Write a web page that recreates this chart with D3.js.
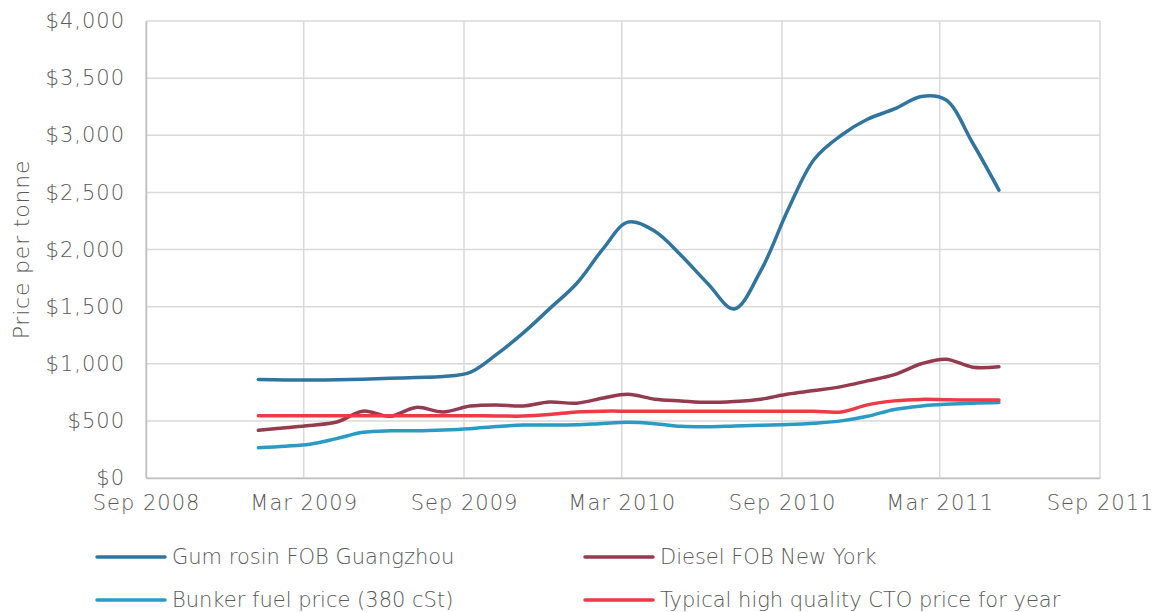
<!DOCTYPE html>
<html>
<head>
<meta charset="utf-8">
<script src="https://cdn.jsdelivr.net/npm/d3@7"></script>
<style>
  body { margin: 0; background: #fff; }
  text { font-family: "DejaVu Sans", sans-serif; font-weight: 200; fill: #595959; }
</style>
</head>
<body>
<div id="container"></div>
<script>
// monthly series, Jan 2009 .. May 2011
let months = d3.range(29).map(k => new Date(2009, k, 8));

let gumRosin = [862, 858, 858, 860, 865, 872, 880, 888, 925, 1080, 1270, 1480,
                1700, 2010, 2240, 2160, 1950, 1700, 1480, 1820, 2350, 2790, 3000, 3140,
                3230, 3340, 3310, 2930, 2520];
let diesel = [418, 440, 460, 490, 585, 540, 618, 578, 630, 640, 630, 665,
              655, 700, 733, 690, 675, 662, 670, 690, 735, 765, 800, 850,
              905, 1000, 1040, 970, 974];
let bunker = [265, 278, 295, 345, 400, 413, 413, 420, 432, 450, 464, 463,
              465, 478, 487, 475, 452, 448, 455, 462, 468, 480, 500, 540,
              600, 630, 645, 655, 660];
let cto = [545, 545, 545, 545, 545, 545, 545, 545, 545, 543, 542, 555,
           578, 585, 585, 585, 585, 585, 585, 585, 585, 584, 578, 640,
           675, 688, 685, 683, 683];

let seriesNames = ["Gum rosin FOB Guangzhou", "Diesel FOB New York",
                   "Bunker fuel price (380 cSt)", "Typical high quality CTO price for year"];
let seriesColors = ["#31759e", "#943b4e", "#2a9bc4", "#ef3a46"];
let yTicks = d3.range(0, 4001, 500);
let xTicks = [new Date(2008, 8, 1), new Date(2009, 2, 1), new Date(2009, 8, 1),
              new Date(2010, 2, 1), new Date(2010, 8, 1), new Date(2011, 2, 1), new Date(2011, 8, 1)];

let width = 1153, height = 612;
let margin = {left: 146, right: 53, top: 21, bottom: 134};

let svg = d3.select('#container').append('svg')
    .attr('width', width)
    .attr('height', height);

let x = d3.scaleTime()
    .domain([xTicks[0], xTicks[xTicks.length - 1]])
    .range([margin.left, width - margin.right]);
let y = d3.scaleLinear()
    .domain([0, 4000])
    .range([height - margin.bottom, margin.top]);

// grid
svg.append('g').selectAll('line.h').data(yTicks).enter().append('line')
    .attr('x1', margin.left).attr('x2', width - margin.right)
    .attr('y1', d => y(d)).attr('y2', d => y(d))
    .attr('stroke', '#d9d9d9').attr('stroke-width', 1.5);
svg.append('g').selectAll('line.v').data(xTicks).enter().append('line')
    .attr('x1', d => x(d)).attr('x2', d => x(d))
    .attr('y1', margin.top).attr('y2', height - margin.bottom)
    .attr('stroke', '#d9d9d9').attr('stroke-width', 1.5);

// axes
let yAxis = svg.append('g')
    .attr('transform', 'translate(' + margin.left + ',0)')
    .call(d3.axisLeft(y).tickValues(yTicks).tickSize(0).tickPadding(21)
        .tickFormat(d => '$' + d3.format(',')(d)));
yAxis.select('.domain').attr('stroke', '#bfbfbf').attr('stroke-width', 1.5);
yAxis.selectAll('text').style('font-size', '21px').style('letter-spacing', '1px')
    .attr('fill', '#595959');

let xAxis = svg.append('g')
    .attr('transform', 'translate(0,' + (height - margin.bottom) + ')')
    .call(d3.axisBottom(x).tickValues(xTicks).tickSize(0).tickPadding(17)
        .tickFormat(d3.timeFormat('%b %Y')));
xAxis.select('.domain').attr('stroke', '#bfbfbf').attr('stroke-width', 1.5);
xAxis.selectAll('text').style('font-size', '21px').style('letter-spacing', '1px')
    .attr('fill', '#595959');

svg.append('text')
    .attr('transform', 'translate(29,' + ((margin.top + height - margin.bottom) / 2) + ') rotate(-90)')
    .attr('text-anchor', 'middle')
    .style('font-size', '22px')
    .style('letter-spacing', '0.8px')
    .text('Price per tonne');

// lines
let line = d3.line()
    .x((d, i) => x(months[i]))
    .y(d => y(d))
    .curve(d3.curveCatmullRom.alpha(0.5));

let allSeries = [gumRosin, diesel, bunker, cto];
svg.append('g').selectAll('path').data(allSeries).enter().append('path')
    .attr('d', line)
    .attr('fill', 'none')
    .attr('stroke', (d, i) => seriesColors[i])
    .attr('stroke-width', 3.5)
    .attr('stroke-linecap', 'round');

// legend
let legendPos = [[97, 557], [585, 557], [97, 600], [585, 600]];
let legend = svg.append('g').selectAll('g').data(seriesNames).enter().append('g')
    .attr('transform', (d, i) => 'translate(' + legendPos[i][0] + ',' + legendPos[i][1] + ')');
legend.append('line')
    .attr('x1', 0).attr('x2', 68)
    .attr('stroke', (d, i) => seriesColors[i])
    .attr('stroke-width', 3.5)
    .attr('stroke-linecap', 'round');
legend.append('text')
    .attr('x', 75).attr('dy', '0.35em')
    .style('font-size', '21px')
    .text(d => d);
</script>
</body>
</html>
